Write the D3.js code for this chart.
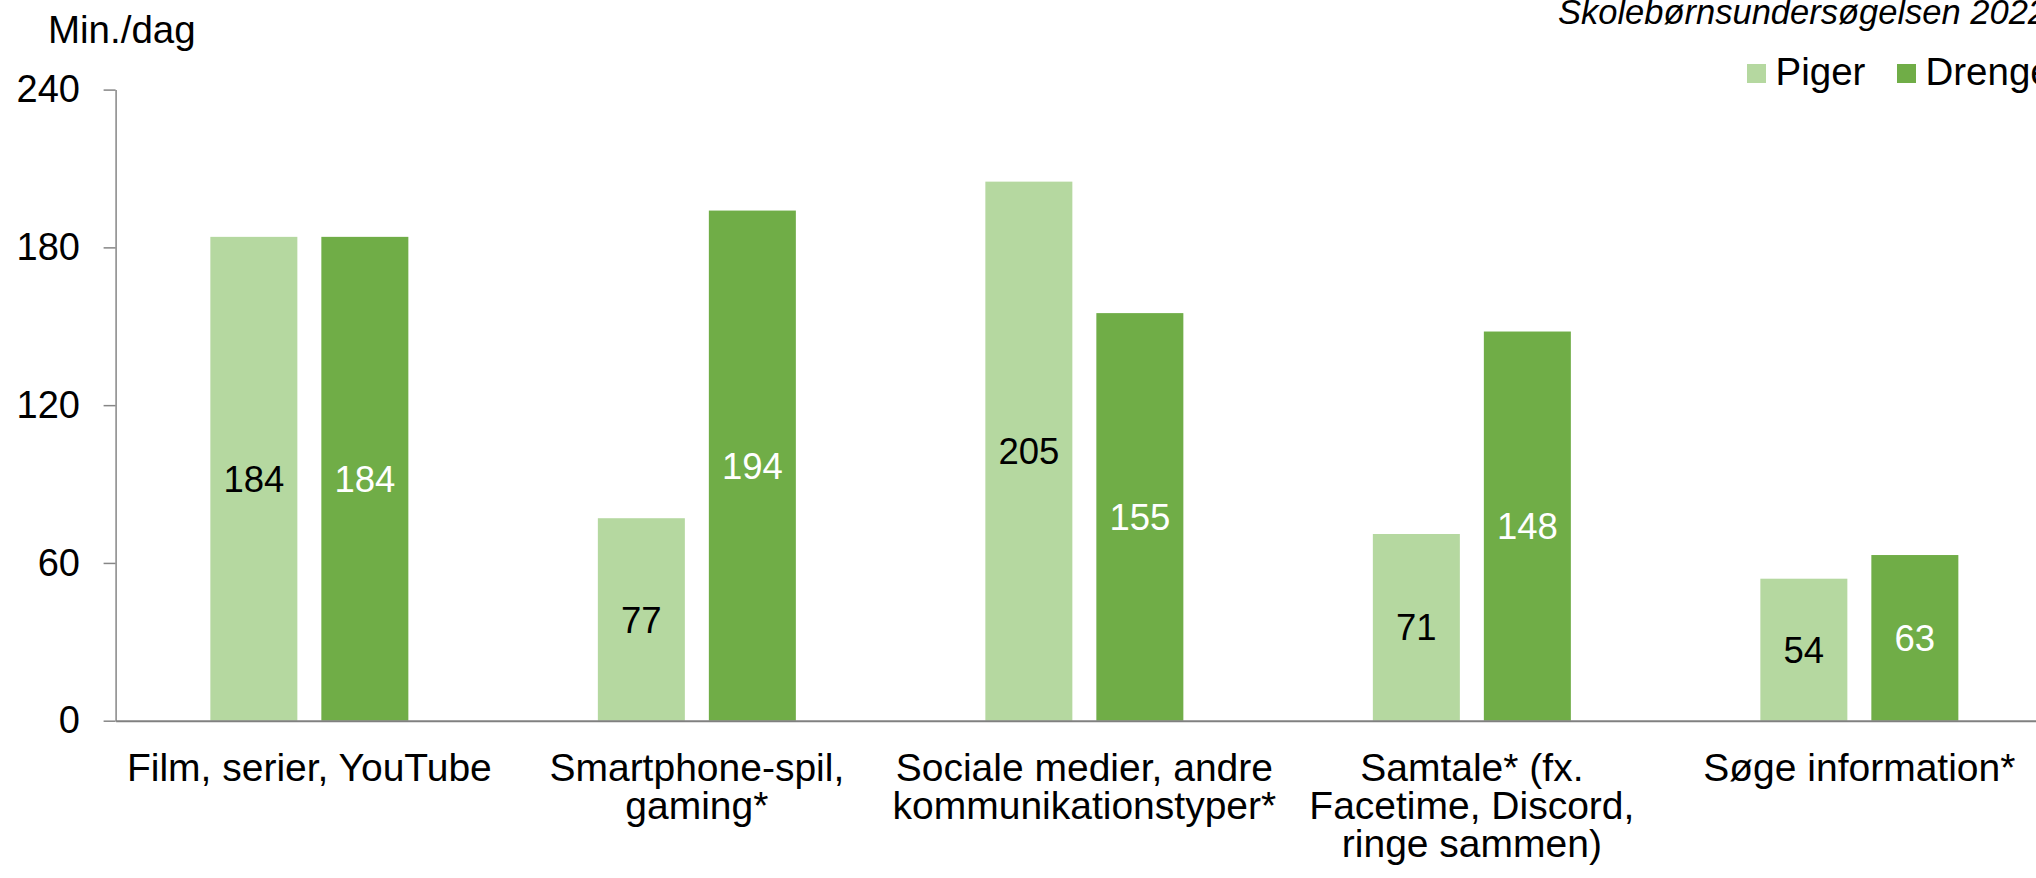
<!DOCTYPE html>
<html>
<head>
<meta charset="utf-8">
<script src="https://cdn.jsdelivr.net/npm/d3@7"></script>
<style>
  html, body { margin: 0; padding: 0; background: #fff; }
  #chart-container { width: 2036px; height: 878px; overflow: hidden; }
  text { font-family: "Liberation Sans", Arial, Helvetica, sans-serif; }
</style>
</head>
<body>
<div id="chart-container"></div>
<script>
// data
const categories = [
  "Film, serier, YouTube",
  "Smartphone-spil,\ngaming*",
  "Sociale medier, andre\nkommunikationstyper*",
  "Samtale* (fx.\nFacetime, Discord,\nringe sammen)",
  "Søge information*",
];
const series = ["Piger", "Drenge"];
const piger_values = [184, 77, 205, 71, 54];
const drenge_values = [184, 194, 155, 148, 63];
const y_ticks = [0, 60, 120, 180, 240];

const colors = { Piger: "#b5d8a0", Drenge: "#70ad47" };
const label_colors = { Piger: "#000", Drenge: "#fff" };

const render_chart = () => {
  let element = document.getElementById("chart-container");
  let width = 2036;
  let height = 878;
  // plot runs past the right edge, the original is cropped there
  let margin = { left: 115.6, top: 89.6, bottom: height - 720.7 };
  let band_width = 387.5;
  let innerHeight = height - margin.top - margin.bottom;

  let data = categories.map((c, i) => ({
    category: c,
    Piger: piger_values[i],
    Drenge: drenge_values[i],
  }));

  let svg = d3
    .select(element)
    .append("svg")
    .attr("width", width)
    .attr("height", height);

  let x0 = d3
    .scaleBand()
    .domain(categories)
    .range([0, band_width * categories.length])
    .padding(0);

  let group_width = 198;
  let x1 = d3
    .scaleBand()
    .domain(series)
    .range([0, group_width])
    .paddingInner(0.2162)
    .paddingOuter(0);

  let yScale = d3.scaleLinear().domain([0, 240]).range([innerHeight, 0]);

  let g = svg
    .append("g")
    .attr("transform", "translate(" + margin.left + "," + margin.top + ")");

  // bars
  let groups = g
    .selectAll(".group")
    .data(data)
    .enter()
    .append("g")
    .attr("class", "group")
    .attr(
      "transform",
      (d) =>
        `translate(${x0(d.category) + (x0.bandwidth() - group_width) / 2},0)`
    );

  groups
    .selectAll("rect")
    .data((d) => series.map((s) => ({ key: s, value: d[s] })))
    .enter()
    .append("rect")
    .attr("x", (d) => x1(d.key))
    .attr("y", (d) => yScale(d.value))
    .attr("width", x1.bandwidth())
    .attr("height", (d) => innerHeight - yScale(d.value))
    .attr("fill", (d) => colors[d.key]);

  groups
    .selectAll(".value-label")
    .data((d) => series.map((s) => ({ key: s, value: d[s] })))
    .enter()
    .append("text")
    .attr("class", "value-label")
    .attr("x", (d) => x1(d.key) + x1.bandwidth() / 2)
    .attr("y", (d) => (yScale(d.value) + innerHeight) / 2)
    .attr("dy", "0.36em")
    .attr("text-anchor", "middle")
    .attr("fill", (d) => label_colors[d.key])
    .style("font-size", "36.5px")
    .text((d) => d.value);

  // y axis
  g.append("g")
    .attr("class", "y-axis")
    .call(
      d3
        .axisLeft(yScale)
        .tickValues(y_ticks)
        .tickSize(12)
        .tickSizeOuter(0)
        .tickPadding(23.6)
    );

  // x axis (baseline + category labels)
  let x_axis = g
    .append("g")
    .attr("class", "x-axis")
    .attr("transform", `translate(0,${innerHeight})`)
    .call(d3.axisBottom(x0).tickSize(0).tickSizeOuter(0));

  x_axis.selectAll(".tick text").each(function (d) {
    let lines = d.split("\n");
    let t = d3.select(this).text(null).attr("y", 60).attr("dy", null);
    lines.forEach((line, i) => {
      t.append("tspan")
        .attr("x", 0)
        .attr("dy", i == 0 ? 0 : 38)
        .text(line);
    });
  });

  svg.selectAll(".y-axis .domain").attr("stroke", "#868686").attr("stroke-width", 1.5);
  svg.selectAll(".y-axis .tick line").attr("stroke", "#868686").attr("stroke-width", 1.5);
  svg
    .selectAll(".y-axis .tick text")
    .attr("fill", "#000")
    .style("font-size", "38px");
  svg.selectAll(".x-axis .domain").attr("stroke", "#808080").attr("stroke-width", 2);
  svg
    .selectAll(".x-axis .tick text")
    .attr("fill", "#000")
    .style("font-size", "39px");

  // unit label
  svg
    .append("text")
    .attr("x", 48)
    .attr("y", 43)
    .style("font-size", "38.5px")
    .attr("fill", "#000")
    .text("Min./dag");

  // source title, cut at the right edge like the original
  svg
    .append("text")
    .attr("x", 1558)
    .attr("y", 24)
    .style("font-size", "34.5px")
    .style("font-style", "italic")
    .attr("fill", "#000")
    .text("Skolebørnsundersøgelsen 2022");

  // legend
  let legend_x = [1747, 1897];
  let legend = svg
    .selectAll(".legend")
    .data(series)
    .enter()
    .append("g")
    .attr("class", "legend")
    .attr("transform", (d, i) => `translate(${legend_x[i]},0)`);

  legend
    .append("rect")
    .attr("x", 0)
    .attr("y", 64)
    .attr("width", 19)
    .attr("height", 19)
    .attr("fill", (d) => colors[d]);

  legend
    .append("text")
    .attr("x", 28.5)
    .attr("y", 85)
    .style("font-size", "38.5px")
    .attr("fill", "#000")
    .text((d) => d);
};

render_chart();
</script>
</body>
</html>
